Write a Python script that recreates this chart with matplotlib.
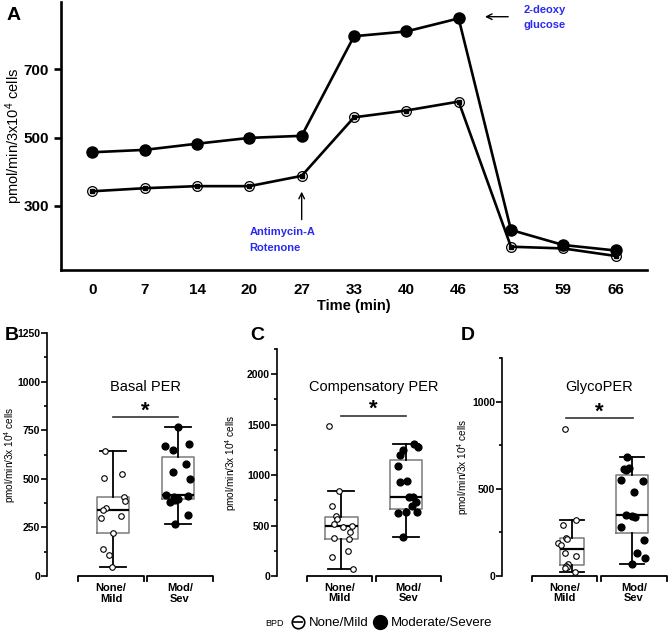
import numpy as np
import matplotlib.pyplot as plt
from matplotlib.lines import Line2D
from matplotlib.legend_handler import HandlerTuple

plt.rcParams['font.family'] = ['Liberation Sans', 'DejaVu Sans']
plt.rcParams['mathtext.default'] = 'regular'

# panel A - PER over time
times = ['0', '7', '14', '20', '27', '33', '40', '46', '53', '59', '66']
per_mod_sev = [457, 464, 482, 499, 505, 796, 810, 848, 230, 186, 170]
per_none_mild = [343, 352, 358, 358, 388, 559, 579, 605, 181, 176, 154]

# panels B-D - per subject values (jitter = x offset, in category units)
groups = ['None/\nMild', 'Mod/\nSev']

basal_none = [643, 523, 503, 408, 386, 348, 340, 300, 309, 223, 137, 108, 45]
basal_none_jit = [-0.12, 0.14, -0.14, 0.17, 0.18, -0.11, -0.16, -0.18, 0.12, 0.0, -0.16, -0.06, -0.01]
basal_mod = [765, 670, 648, 679, 578, 533, 501, 418, 405, 398, 382, 412, 391, 315, 269]
basal_mod_jit = [0.0, -0.2, -0.07, 0.17, 0.12, -0.07, 0.18, -0.18, -0.06, 0.0, -0.12, 0.15, -0.04, 0.16, -0.05]

comp_none = [1488, 842, 696, 597, 561, 515, 488, 495, 439, 373, 363, 250, 185, 66]
comp_none_jit = [-0.19, -0.04, -0.14, -0.09, -0.06, -0.12, 0.02, 0.17, 0.13, -0.11, 0.12, 0.1, -0.15, 0.18]
comp_mod = [1307, 1274, 1248, 1198, 1092, 934, 941, 785, 780, 736, 693, 627, 637, 631, 383]
comp_mod_jit = [0.12, 0.19, -0.05, -0.09, -0.12, -0.09, 0.01, 0.05, 0.1, 0.16, 0.09, -0.12, 0.0, 0.17, -0.04]

glyco_none = [843, 322, 293, 217, 210, 188, 178, 134, 117, 69, 60, 53, 48, 21]
glyco_none_jit = [-0.11, 0.07, -0.15, -0.1, -0.08, -0.22, -0.18, -0.11, 0.07, -0.06, -0.1, -0.08, -0.11, 0.06]
glyco_mod = [682, 613, 620, 605, 548, 544, 483, 347, 337, 342, 283, 207, 130, 105, 67]
glyco_mod_jit = [-0.07, -0.13, -0.05, -0.1, -0.17, 0.19, 0.04, -0.1, 0.06, 0.0, -0.17, 0.2, 0.09, 0.22, 0.0]

W, H = 668, 631


def rect(x0, y0, x1, y1):
    # pixel box -> figure fraction
    return [x0 / W, 1 - y1 / H, (x1 - x0) / W, (y1 - y0) / H]


fig = plt.figure(figsize=(W / 100, H / 100), dpi=100)

# ---------------- A ----------------
ax = fig.add_axes(rect(61, 2, 647, 270))
x = np.arange(len(times))
ax.plot(x, per_mod_sev, '-o', color='black', lw=1.9, ms=8, zorder=3)
ax.plot(x, per_none_mild, '-', color='black', lw=1.9, zorder=2)
ax.plot(x, per_none_mild, 'o', ms=7, mfc='none', mec='black', mew=0.9, zorder=3)
ax.plot(x, per_none_mild, 's', ms=2.5, color='black', zorder=4)
ax.set_xlim(-0.6, 10.6)
ax.set_ylim(113, 896)
ax.set_xticks(x, times)
ax.set_yticks([300, 500, 700])
for s in ['top', 'right']:
    ax.spines[s].set_visible(False)
for s in ['left', 'bottom']:
    ax.spines[s].set_linewidth(1.9)
ax.tick_params(axis='y', width=1.9, length=5, labelsize=11)
ax.tick_params(axis='x', length=0, pad=9, labelsize=11)
for lab in ax.get_xticklabels() + ax.get_yticklabels():
    lab.set_fontweight('bold')
ax.set_xlabel('Time (min)', fontsize=10.5, fontweight='bold', labelpad=2)
ax.set_ylabel('pmol/min/3x10$^4$ cells', fontsize=10.5)
ax.yaxis.set_label_coords(-0.062, 0.5)

ax.annotate('', xy=(4, 350), xytext=(4, 252),
            arrowprops=dict(arrowstyle='->', color='black', lw=1))
ax.text(3, 224, 'Antimycin-A', color='#2a2af0', fontsize=8, fontweight='bold',
        ha='left', va='center')
ax.text(3, 177, 'Rotenone', color='#2a2af0', fontsize=8, fontweight='bold',
        ha='left', va='center')
ax.annotate('', xy=(7.45, 853), xytext=(8.0, 853),
            arrowprops=dict(arrowstyle='->', color='black', lw=1))
ax.text(8.24, 874, '2-deoxy', color='#2a2af0', fontsize=8, fontweight='bold',
        ha='left', va='center')
ax.text(8.24, 828, 'glucose', color='#2a2af0', fontsize=8, fontweight='bold',
        ha='left', va='center')
fig.text(7 / W, 1 - 15 / H, 'A', fontsize=14, fontweight='bold', va='center')


# ---------------- B-D ----------------
def box_panel(r, xlim, brackets, none_v, none_j, mod_v, mod_j, ymax, major,
              minor, title, title_x, sig_x, sig_y, star_y, widths, lab_x):
    ax = fig.add_axes(rect(*r))
    ax.boxplot([none_v, mod_v], positions=[0, 1], widths=widths, whis=1.5,
               showfliers=False, capwidths=0.4,
               boxprops=dict(color='#7a7a7a', lw=1.1),
               medianprops=dict(color='black', lw=1.6),
               whiskerprops=dict(color='black', lw=1.3),
               capprops=dict(color='black', lw=1.3))
    ax.scatter(np.array(none_j), none_v, s=16, facecolor='white',
               edgecolor='black', lw=0.8, zorder=3)
    ax.scatter(1 + np.array(mod_j), mod_v, s=24, color='black', zorder=3)
    ax.set_xlim(*xlim)
    ax.set_ylim(0, ymax)
    ax.set_yticks(major)
    ax.set_yticks(minor, minor=True)
    for s in ['top', 'right', 'bottom']:
        ax.spines[s].set_visible(False)
    ax.spines['left'].set_linewidth(1.2)
    ax.tick_params(axis='y', which='major', width=1.2, length=4, labelsize=7.5, pad=1)
    ax.tick_params(axis='y', which='minor', width=1.2, length=2.5)
    ax.tick_params(axis='x', length=0, labelbottom=False)
    for lab in ax.get_yticklabels():
        lab.set_fontweight('bold')
    ax.set_ylabel('pmol/min/3x 10$^4$ cells', fontsize=7.2)
    tr = ax.get_xaxis_transform()
    for (a, b), lx, g in zip(brackets, lab_x, groups):
        ax.plot([a, a, b, b], [-0.022, 0, 0, -0.022], transform=tr,
                color='black', lw=1.3, clip_on=False)
        ax.text(lx, -0.03, g, transform=tr, ha='center', va='top',
                fontsize=8, fontweight='bold', linespacing=1.05)
    ax.plot(sig_x, [sig_y, sig_y], color='#333333', lw=1.2)
    ax.text(np.mean(sig_x), star_y, '*', ha='center', va='center',
            fontsize=16, fontweight='bold')
    ax.text(title_x, (r[3] - 387) / (r[3] - r[1]), title, transform=tr,
            ha='center', va='center', fontsize=10.5)
    return ax


axb = box_panel((47, 333, 213, 576), (-1.015, 1.54), [(-0.54, 0.477), (0.523, 1.54)],
                basal_none, basal_none_jit, basal_mod, basal_mod_jit, 1250,
                [0, 250, 500, 750, 1000, 1250], np.arange(125, 1250, 250),
                'Basal PER', 0.5, [0, 1], 820, 848, 0.5, [-0.03, 1.03])
axb.yaxis.set_label_coords(-0.175, 0.5)

axc = box_panel((277, 349, 441, 576), (-0.994, 1.54), [(-0.53, 0.475), (0.536, 1.54)],
                comp_none, comp_none_jit, comp_mod, comp_mod_jit, 2250,
                [0, 500, 1000, 1500, 2000], np.arange(250, 2251, 500),
                'Compensatory PER', 0.5, [0, 1], 1586, 1650, 0.5, [-0.03, 1.04])
axc.yaxis.set_label_coords(-0.23, 0.5)

axd = box_panel((502, 358, 667, 576), (-1.16, 1.59), [(-0.66, 0.42), (0.49, 1.59)],
                glyco_none, glyco_none_jit, glyco_mod, glyco_mod_jit, 1250,
                [0, 500, 1000], [250, 750, 1250],
                'GlycoPER', 0.46, [-0.1, 1.02], 908, 940, [0.4, 0.53], [-0.12, 1.04])
axd.yaxis.set_label_coords(-0.19, 0.5)

for letter, px, py in [('B', 5, 335), ('C', 250, 335), ('D', 461, 335)]:
    fig.text(px / W, 1 - py / H, letter, fontsize=14, fontweight='bold', va='center')

# legend
open_h = (Line2D([], [], marker='o', ms=9, mfc='white', mec='black', mew=1.2, ls='none'),
          Line2D([], [], marker='_', ms=7.5, mec='black', mew=1.2, ls='none'))
fill_h = Line2D([], [], marker='o', ms=10, color='black', ls='none')
fig.legend(handles=[open_h, fill_h], labels=['None/Mild', 'Moderate/Severe'],
           handler_map={tuple: HandlerTuple(ndivide=1)}, loc='center',
           bbox_to_anchor=(392 / W, 1 - 623 / H), ncol=2, frameon=False,
           fontsize=9.5, handlelength=1.0, handletextpad=0.3, columnspacing=0.4)
fig.text(265 / W, 1 - 623 / H, 'BPD', fontsize=6.5, va='center')

fig.savefig('out.png', dpi=100)
